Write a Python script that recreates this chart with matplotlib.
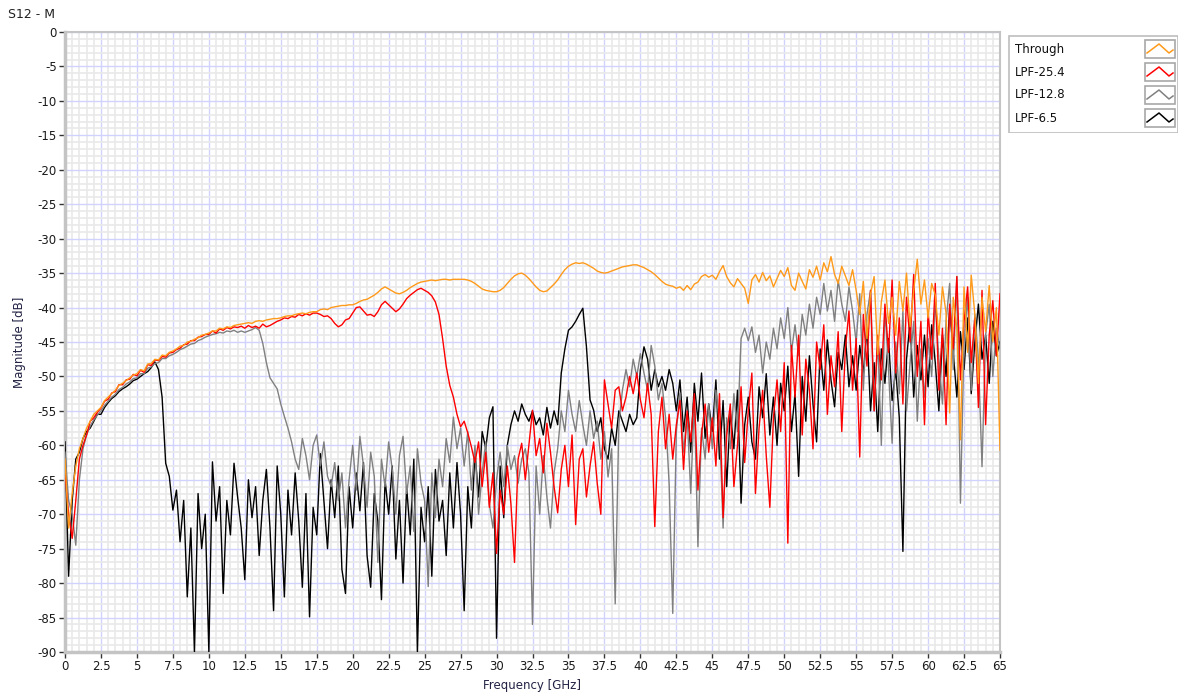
import numpy as np
import matplotlib
matplotlib.use('Agg')
import matplotlib.pyplot as plt
from matplotlib.ticker import MultipleLocator
from matplotlib.patches import Rectangle

plt.rcParams['axes.unicode_minus'] = False

# frequency grid, 0.25 GHz steps from 0 to 65 GHz
freq = np.arange(261) * 0.25

# S12 magnitude [dB], one row = 2.5 GHz
through = [
    -62, -72, -67, -63, -60.5, -59, -57.5, -56.5, -55.5, -55,
    -54.5, -53.5, -53, -52.5, -52, -51.3, -51, -50.6, -50.2, -49.8,
    -49.6, -49.0, -49.2, -48.2, -48.1, -47.5, -47.6, -46.9, -47.0, -46.5,
    -46.3, -46.0, -45.6, -45.5, -45.0, -44.9, -44.6, -44.4, -44.0, -43.9,
    -43.7, -43.4, -43.4, -43.0, -43.1, -42.8, -42.9, -42.6, -42.5, -42.4,
    -42.3, -42.2, -42.3, -42.0, -41.9, -42.0, -41.8, -41.7, -41.6, -41.6,
    -41.5, -41.3, -41.2, -41.2, -41.0, -40.9, -40.8, -40.9, -40.7, -40.6,
    -40.6, -40.3, -40.2, -40.3, -40.0, -39.9, -39.8, -39.7, -39.7, -39.6,
    -39.6, -39.4, -39.1, -38.9, -38.8, -38.5, -38.2, -37.8, -37.3, -37.0,
    -37.3, -37.6, -37.9, -38.0, -37.8, -37.5, -37.1, -36.8, -36.5, -36.3,
    -36.2, -36.1, -36.0, -36.1, -36.0, -35.9, -35.9, -36.0, -35.9, -35.9,
    -35.9, -35.9, -36.0, -36.2, -36.5, -36.9, -37.3, -37.5, -37.6, -37.7,
    -37.7, -37.5, -37.1, -36.5, -35.9, -35.4, -35.1, -35.0, -35.3, -35.8,
    -36.4, -37.0, -37.5, -37.7, -37.6, -37.1, -36.6, -36.0, -35.2, -34.5,
    -34.0, -33.7, -33.5, -33.6, -33.5, -33.7, -34.0, -34.3, -34.7, -34.9,
    -35.0, -34.9, -34.7, -34.5, -34.3, -34.1, -34.0, -33.9, -33.8, -33.8,
    -34.0, -34.2, -34.5, -34.8, -35.2, -35.7, -36.2, -36.6, -36.8, -36.9,
    -37.2, -37.0, -37.5, -36.8, -37.4, -36.6, -36.3, -35.5, -35.2, -35.6,
    -35.3, -35.9, -34.8, -33.9, -35.5, -36.4, -37.0, -35.8, -36.5, -37.2,
    -39.4, -36.0, -35.2, -36.3, -34.9, -36.1, -35.4, -37.0, -35.8, -34.6,
    -35.5, -34.2, -36.8, -37.5, -35.0, -36.2, -37.3, -34.5, -35.6, -34.0,
    -36.0, -33.5, -34.8, -32.6, -35.2, -36.5, -34.0, -35.4, -36.8, -34.5,
    -37.5, -41.0, -36.2, -44.5, -38.0, -35.5, -46.8, -39.2, -36.0, -42.3,
    -38.5, -44.0, -36.2, -40.5, -35.0, -42.8, -37.5, -33.0, -39.5, -36.0,
    -41.5, -36.5, -38.2, -44.0, -37.0, -40.8, -55.3, -38.5, -43.0, -59.2,
    -37.0, -46.5, -35.3, -41.0, -51.0, -38.5, -43.5, -36.8, -45.0, -40.0,
    -60.7,
]

lpf_25_4 = [
    -64, -70, -73.5, -68, -62, -60, -58.5, -56.5, -56, -55.2,
    -54.6, -53.6, -53.3, -52.4, -52.2, -51.2, -51.2, -50.5, -50.4, -49.7,
    -49.9, -49.1, -49.4, -48.3, -48.4, -47.6, -47.7, -47.1, -47.2, -46.6,
    -46.5, -46.1, -45.9, -45.4, -45.3, -44.8, -44.8, -44.3, -44.2, -43.9,
    -43.9, -43.4, -43.7, -43.1, -43.3, -42.9, -43.1, -42.8, -42.9, -42.7,
    -43.0, -42.6, -42.9, -42.7, -43.0, -42.4, -42.8, -42.6, -42.3, -42.0,
    -41.8, -41.5, -41.6, -41.3, -41.4, -41.0, -41.2, -40.9, -41.1, -40.8,
    -40.8, -41.0, -41.3, -41.2, -41.6, -42.3, -42.8, -42.5, -41.8, -41.6,
    -40.8, -40.0, -39.9, -40.5, -41.1, -41.0, -41.3, -40.6, -39.6, -39.1,
    -39.6, -40.1, -40.6, -40.2, -39.5, -38.7, -38.2, -37.8, -37.4, -37.2,
    -37.5, -37.8, -38.3, -39.2, -41.0, -44.5, -48.5, -51.3, -53.0, -55.5,
    -57.3, -56.5, -58.2, -60.2, -62.5, -59.5, -66.0, -61.0, -69.0, -64.0,
    -75.7, -66.5, -70.0, -63.0, -68.5, -77.0, -62.0, -59.7, -65.0, -60.0,
    -54.9, -61.5, -59.0, -64.0, -56.8, -61.0, -66.0, -69.8, -63.5, -60.0,
    -66.0, -58.5, -71.5, -62.0, -60.5, -67.5, -63.0, -59.5, -65.5, -70.0,
    -50.5, -54.0, -57.5, -52.0, -51.5, -55.0, -53.0, -50.0, -52.5, -49.5,
    -53.4, -56.0, -51.0, -55.5, -71.8, -58.0, -53.0, -60.5, -55.5, -62.0,
    -57.0, -53.5, -63.5, -55.0, -59.5, -52.5, -66.5, -58.5, -54.0, -61.0,
    -56.0, -63.0, -52.5, -70.5, -58.5, -54.0, -66.0, -60.0, -51.5, -62.5,
    -55.0, -49.5, -67.0, -57.5, -52.0, -61.5, -69.0, -56.0, -50.5, -58.0,
    -48.0, -74.2, -45.5, -53.0, -44.0, -58.5, -47.5, -52.0, -60.5, -45.0,
    -49.0, -42.5, -55.5, -47.0, -51.5, -43.5, -58.0, -46.0, -40.5, -52.0,
    -44.5, -61.7, -41.0, -48.5, -37.5, -55.0, -44.0, -50.5, -39.5, -46.5,
    -36.0, -49.5, -41.5, -54.0, -38.5, -45.0, -35.2, -50.0, -42.0, -57.0,
    -40.5, -47.5, -36.5, -52.0, -43.0, -57.0, -39.5, -46.0, -35.5, -50.5,
    -42.0, -37.0, -48.0, -41.5, -54.5, -37.5, -57.0, -44.0, -39.0, -47.0,
    -38.0,
]

lpf_12_8 = [
    -61, -68, -70, -74.5, -65, -60.5, -58.5, -57.2, -56.3, -55.6,
    -55.0, -54.2, -53.6, -53.0, -52.6, -51.9, -51.6, -51.1, -50.8, -50.3,
    -50.2, -49.6, -49.6, -48.8, -48.6, -48.1, -48.0, -47.4, -47.4, -47.0,
    -46.8, -46.5, -46.1, -45.9, -45.6, -45.3, -45.2, -44.8, -44.6, -44.3,
    -44.1, -43.9, -43.8, -43.6, -43.7, -43.4, -43.5, -43.3, -43.6, -43.4,
    -43.6, -43.4, -43.2, -42.9, -43.3, -45.2, -48.0, -50.2, -51.0, -51.8,
    -54.0, -55.8, -57.5, -59.5, -62.0, -63.5, -59.0, -61.5, -65.0, -60.0,
    -58.5, -63.0, -59.5, -64.5, -66.0, -62.5, -68.0, -64.0, -72.0, -65.0,
    -60.0, -66.5, -58.7, -63.0, -69.0, -61.0, -64.5, -77.0, -62.0, -66.0,
    -59.5, -63.5, -70.0, -61.5, -58.7, -67.0, -63.0, -72.5, -60.5, -65.5,
    -68.0, -80.5, -64.0, -70.5, -62.0, -66.0, -59.0, -62.5, -55.9, -60.5,
    -57.5, -63.0, -58.0, -66.5, -60.0, -70.0, -64.0, -59.5, -68.5, -72.0,
    -65.0, -61.0, -66.0, -60.0, -63.5, -61.5, -65.5, -62.0, -60.5, -64.0,
    -86.0, -63.0, -70.0, -61.5, -67.5, -72.0, -64.0, -60.5, -55.0, -58.0,
    -52.0, -55.5, -58.0, -53.5, -57.0, -60.0, -55.0, -59.0, -56.5, -62.0,
    -58.0, -64.6, -60.5, -83.0, -57.0, -52.0, -49.0, -51.5, -47.5, -50.0,
    -46.7, -49.5, -52.0, -45.5, -48.5, -53.4, -51.0, -56.0, -65.6, -84.4,
    -58.0, -52.4, -61.0, -55.5, -67.0, -53.5, -74.7, -57.5, -62.0, -54.0,
    -60.5, -52.0, -57.0, -72.0, -56.0, -60.5, -52.5, -58.0, -44.5, -43.0,
    -44.8, -42.8, -46.5, -44.0, -49.5, -45.0, -47.5, -43.0, -46.0, -41.5,
    -44.5, -40.0, -46.5, -42.5, -47.0, -41.0, -44.0, -39.5, -43.0, -38.5,
    -41.0, -36.5, -40.5, -37.5, -42.0, -36.0, -39.5, -42.0, -37.0, -40.5,
    -45.0, -38.0, -52.0, -41.0, -37.5, -55.0, -44.5, -60.0, -40.0, -49.0,
    -59.7, -45.0, -52.5, -40.5, -55.0, -48.0, -42.0, -56.5, -46.0, -53.0,
    -44.5, -50.0, -39.0, -47.5, -54.0, -42.0, -36.5, -49.0, -35.5, -68.4,
    -45.0, -38.5, -52.0, -41.0, -47.5, -63.1, -44.0, -39.5, -50.0, -43.0,
    -46.0,
]

lpf_6_5 = [
    -59.5, -79.0, -68.0, -62.0, -61.0, -59.0, -58.0, -57.5, -56.5, -55.5,
    -55.5, -54.5, -53.8, -53.2, -52.8, -52.2, -51.8, -51.5, -51.1, -50.6,
    -50.4, -50.0, -49.6, -49.3, -48.7, -47.9, -49.0, -53.0, -62.6, -64.5,
    -69.4, -66.5, -74.0, -68.0, -82.0, -72.0, -90.0, -67.0, -75.0, -70.0,
    -90.0, -62.4, -71.0, -66.0, -81.5, -68.0, -73.0, -62.6, -67.5, -72.0,
    -79.5, -65.0, -70.5, -66.0, -76.0, -68.0, -63.5, -72.0, -84.0, -63.0,
    -70.0, -82.0, -66.5, -73.0, -64.0, -71.0, -80.6, -67.0, -84.9, -69.0,
    -73.0, -61.2, -68.0, -75.0, -65.0, -70.5, -63.0, -78.0, -81.5, -66.0,
    -72.0, -64.0, -69.5, -62.5, -76.0, -80.6, -67.0, -71.0, -82.4, -65.0,
    -70.0, -63.0, -76.5, -68.0, -80.0, -66.0, -73.0, -62.0, -90.0, -69.0,
    -74.0, -66.0, -79.0, -63.5, -71.0, -68.0, -76.0, -64.0, -72.0, -62.5,
    -70.0, -84.0, -66.0, -72.0, -61.0, -67.5, -58.0, -60.5, -56.0, -54.4,
    -88.0, -63.0, -70.5, -60.0, -57.0, -55.0, -56.5, -54.0, -55.5, -56.5,
    -55.0, -57.0, -56.0, -58.5, -54.5, -57.5, -55.0, -57.0, -49.5, -46.0,
    -43.3, -42.8, -42.0, -41.0, -40.1, -45.7, -53.4, -54.9, -58.0, -56.0,
    -60.5, -62.0, -57.5, -60.0, -55.0, -56.5, -58.0, -55.5, -57.0, -56.0,
    -49.0, -45.7, -47.5, -52.0, -49.0, -51.5, -50.0, -52.0, -49.0, -51.0,
    -55.0, -50.5, -58.0, -53.0, -61.0, -51.0, -56.5, -49.5, -59.0, -54.0,
    -58.0, -50.5, -62.0, -53.5, -66.0, -55.0, -60.5, -52.0, -68.4, -57.0,
    -53.0, -59.5, -62.0, -51.5, -56.0, -49.6, -58.5, -53.0, -60.0, -51.0,
    -55.0, -48.5, -58.0, -52.5, -64.5, -50.0, -56.5, -47.0, -54.0, -59.5,
    -46.0, -52.0, -44.7, -50.5, -54.4, -46.5, -49.0, -44.0, -51.5, -47.0,
    -52.0, -45.5, -49.5, -43.0, -55.0, -48.0, -58.0, -46.0, -51.0, -44.5,
    -53.5, -49.0, -56.0, -75.4, -47.5, -42.0, -53.0, -45.5, -50.5, -44.0,
    -51.5, -42.5, -48.0, -55.0, -44.0, -50.0, -40.0, -46.5, -53.0, -43.5,
    -49.0, -41.5, -52.5, -45.0, -39.5, -47.5, -44.0, -51.0, -42.0, -47.0,
    -45.0,
]

labels = ['Through', 'LPF-25.4', 'LPF-12.8', 'LPF-6.5']
colors = ['#ff9a1a', '#ff0000', '#808080', '#000000']
series = [through, lpf_25_4, lpf_12_8, lpf_6_5]

for s in series:
    assert len(s) == len(freq), len(s)

fig = plt.figure(figsize=(11.82, 6.95), dpi=100)
ax = fig.add_axes([65 / 1182, 1 - 652 / 695, 935 / 1182, 620 / 695])

# draw last series first so the Through trace sits on top
for i in reversed(range(len(series))):
    ax.plot(freq, series[i], color=colors[i], lw=1.0, zorder=3 + (3 - i))

ax.set_xlim(0, 65)
ax.set_ylim(-90, 0)
xt = np.arange(0, 65.01, 2.5)
ax.set_xticks(xt)
ax.set_xticklabels(['%g' % v for v in xt])
ax.xaxis.set_minor_locator(MultipleLocator(0.5))
ax.yaxis.set_major_locator(MultipleLocator(5))
ax.yaxis.set_minor_locator(MultipleLocator(1))

ax.grid(which='minor', color='#e9e9e9', lw=1.2, zorder=0)
ax.grid(which='major', color='#d2d2ff', lw=1.0, zorder=1)
ax.set_axisbelow(True)

ax.tick_params(which='major', direction='out', length=4, width=1, color='#333333',
               labelsize=8.5, labelcolor='#1a1a1a', pad=2)
ax.tick_params(which='minor', length=0)
for sp in ax.spines.values():
    sp.set_color('#c4c4c4')
    sp.set_linewidth(1.5)
ax.spines['left'].set_linewidth(2.5)
ax.spines['bottom'].set_linewidth(2.5)

fig.text(8 / 1182, 1 - 15 / 695, 'S12 - M', fontsize=9, color='#222222', va='center', ha='left')
fig.text(532 / 1182, 1 - 686 / 695, 'Frequency [GHz]', fontsize=8.5, color='#222244', ha='center', va='center')
fig.text(20 / 1182, 1 - 342 / 695, 'Magnitude [dB]', fontsize=8.5, color='#222244', ha='center', va='center',
         rotation=90)

# legend box drawn by hand, LabVIEW style
lax = fig.add_axes([1008 / 1182, 1 - 133 / 695, 170 / 1182, 98 / 695])
lax.set_xlim(0, 170)
lax.set_ylim(98, 0)
lax.axis('off')
lax.add_patch(Rectangle((0.5, 0.5), 169, 97, fill=True, facecolor='white', edgecolor='#bdbdbd', lw=1.2))
for i, lab in enumerate(labels):
    yc = 14 + i * 23
    lax.text(7, yc, lab, fontsize=8.5, color='#111111', va='center', ha='left')
    lax.add_patch(Rectangle((137, yc - 9), 30, 18, fill=True, facecolor='white', edgecolor='#a8a8a8', lw=1.2))
    zx = np.array([139, 151, 161, 165])
    zy = np.array([yc + 4, yc - 5, yc + 4, yc + 1])
    lax.plot(zx, zy, color=colors[i], lw=1.1)

fig.savefig('out.png', dpi=100)
